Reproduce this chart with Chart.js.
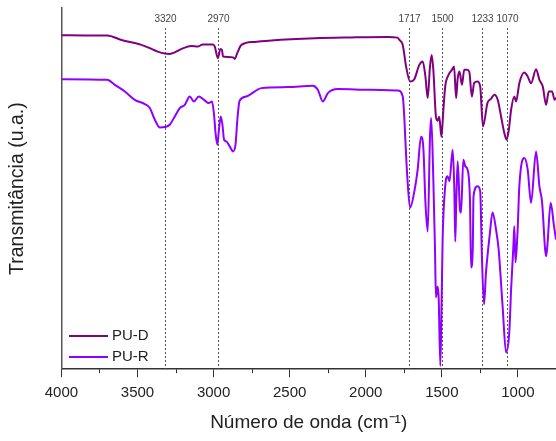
<!DOCTYPE html>
<html>
<head>
<meta charset="utf-8">
<script src="https://cdn.jsdelivr.net/npm/chart.js@4"></script>
<style>
  html, body { margin: 0; padding: 0; background: #fff; }
  #clip { width: 556px; height: 441px; overflow: hidden; }
  #wrap { width: 563px; height: 441px; }
</style>
</head>
<body>
<div id="clip"><div id="wrap"><canvas id="ftir"></canvas></div></div>
<script>
const puDWave = [4000, 3850, 3700, 3605, 3474, 3408, 3367, 3320, 3288, 3255, 3211, 3146, 3104, 3071, 3005, 2992, 2972, 2955, 2945, 2938, 2906, 2873, 2861, 2844, 2817, 2730, 2621, 2336, 2100, 1857, 1792, 1779, 1757, 1735, 1709, 1681, 1648, 1626, 1608, 1593, 1578, 1567, 1556, 1539, 1528, 1517, 1503, 1490, 1478, 1456, 1434, 1420, 1406, 1397, 1384, 1368, 1353, 1336, 1320, 1303, 1288, 1266, 1248, 1230, 1200, 1177, 1155, 1133, 1111, 1090, 1075, 1060, 1045, 1024, 1012, 991, 958, 936, 914, 881, 859, 837, 815, 798, 776, 759, 750];
const puDTrans = [334.7, 334.5, 334.5, 330, 325, 321, 318.3, 316.3, 316, 317.5, 321, 324, 323.3, 325.5, 325.3, 323.3, 311.7, 321, 320, 313.3, 313, 312.5, 311, 317, 325, 328, 329.5, 331.7, 332.5, 333, 332.3, 330, 325, 303.3, 288.3, 290.7, 305, 308.3, 293.3, 271.7, 303.3, 315, 300, 253.3, 249, 253, 233, 260, 283.3, 295, 300, 303.3, 271.7, 290, 298.3, 285, 300, 300, 298.3, 273.3, 286.7, 288.3, 283.3, 243.3, 267, 271, 275, 270, 253.3, 237, 230, 240, 260, 273.3, 268.3, 286.7, 297.3, 293.3, 286.7, 300.7, 290, 283.3, 265, 278.3, 278.3, 270, 272];

const puRWave = [4000, 3700, 3649, 3583, 3518, 3452, 3419, 3386, 3353, 3320, 3288, 3255, 3222, 3189, 3157, 3129, 3098, 3063, 3032, 3010, 2997, 2986, 2975, 2966, 2953, 2942, 2931, 2916, 2894, 2872, 2856, 2843, 2829, 2785, 2686, 2512, 2348, 2315, 2282, 2249, 2183, 1964, 1790, 1757, 1746, 1740, 1728, 1709, 1681, 1659, 1637, 1621, 1608, 1593, 1578, 1570, 1556, 1545, 1539, 1528, 1521, 1510, 1502, 1495, 1478, 1463, 1450, 1429, 1418, 1412, 1405, 1396, 1381, 1374, 1359, 1346, 1331, 1315, 1308, 1297, 1292, 1266, 1248, 1237, 1223, 1210, 1196, 1184, 1167, 1144, 1127, 1101, 1078, 1057, 1045, 1030, 1024, 1016, 1002, 991, 958, 936, 914, 881, 859, 842, 815, 807, 785, 763, 750];
const puRTrans = [290.7, 290, 285, 278.3, 270, 265.7, 261.7, 250, 242.3, 242.7, 245, 253.3, 261.7, 265, 273.3, 268.3, 273.3, 270, 266.7, 268.3, 255, 235, 225, 238.3, 253.3, 245, 230, 228.3, 223.3, 218.3, 225, 251.7, 269, 273.3, 281.7, 282.7, 284, 280, 268.3, 276.7, 280.7, 280, 279.3, 273.3, 250, 230, 195, 161.7, 178, 200, 233, 220, 167, 138, 233, 251.7, 190, 120, 72, 83, 72, 3.3, 63.3, 130, 183.3, 193.3, 188.3, 220, 180, 128, 170, 208.3, 160, 157, 210, 203.3, 200, 167, 102, 120, 173.3, 183.3, 178.3, 113.3, 65, 97, 120, 137, 157, 140, 120, 63.3, 16.7, 37, 80, 123.3, 143.3, 107, 140, 183.3, 211.7, 200, 166.7, 218.3, 183.3, 168.3, 113.3, 123.3, 166.7, 143.3, 130];

const seriesNames = ['PU-D', 'PU-R'];
const seriesColors = ['#800080', '#8f00ff'];
const peakWaves = [3320, 2970, 1717, 1500, 1233, 1070];
const xMajorLabels = [4000, 3500, 3000, 2500, 2000, 1500, 1000];

function toPoints(xs, ys) {
  return xs.map((x, i) => ({ x: x, y: ys[i] }));
}

// dashed peak markers with their labels
const peakPlugin = {
  id: 'peaks',
  beforeDatasetsDraw(chart) {
    const { ctx, chartArea, scales } = chart;
    ctx.save();
    ctx.strokeStyle = '#555';
    ctx.lineWidth = 1;
    ctx.setLineDash([2, 2]);
    ctx.fillStyle = '#444';
    ctx.font = '10px "Liberation Sans", Arial, sans-serif';
    ctx.textAlign = 'center';
    ctx.textBaseline = 'middle';
    for (const w of peakWaves) {
      const px = Math.round(scales.x.getPixelForValue(w)) + 0.5;
      ctx.beginPath();
      ctx.moveTo(px, 28);
      ctx.lineTo(px, chartArea.bottom);
      ctx.stroke();
      ctx.fillText(String(w), px, 19);
    }
    ctx.restore();
  }
};

// short minor ticks + legend in the lower left corner
const extrasPlugin = {
  id: 'extras',
  afterDraw(chart) {
    const { ctx, chartArea, scales } = chart;
    ctx.save();
    ctx.strokeStyle = '#333';
    ctx.lineWidth = 1;
    for (const t of scales.x.ticks) {
      if (t.value % 500 === 0) continue;
      const px = Math.round(scales.x.getPixelForValue(t.value)) + 0.5;
      ctx.beginPath();
      ctx.moveTo(px, chartArea.bottom);
      ctx.lineTo(px, chartArea.bottom + 4);
      ctx.stroke();
    }
    ctx.font = '15px "Liberation Sans", Arial, sans-serif';
    ctx.textBaseline = 'middle';
    ctx.fillStyle = '#222';
    seriesNames.forEach((name, i) => {
      const y = 336 + i * 21;
      ctx.strokeStyle = seriesColors[i];
      ctx.lineWidth = 2;
      ctx.beginPath();
      ctx.moveTo(69, y);
      ctx.lineTo(108, y);
      ctx.stroke();
      ctx.fillText(name, 112, y);
    });
    ctx.restore();
  }
};

new Chart(document.getElementById('ftir'), {
  type: 'line',
  data: {
    datasets: [
      { label: seriesNames[0], data: toPoints(puDWave, puDTrans), borderColor: seriesColors[0] },
      { label: seriesNames[1], data: toPoints(puRWave, puRTrans), borderColor: seriesColors[1] }
    ]
  },
  options: {
    responsive: true,
    maintainAspectRatio: false,
    animation: false,
    parsing: false,
    elements: {
      point: { radius: 0 },
      line: { borderWidth: 2, cubicInterpolationMode: 'monotone', fill: false }
    },
    layout: { padding: { left: 4, top: 8, right: 0, bottom: 0 } },
    plugins: { legend: { display: false }, tooltip: { enabled: false } },
    scales: {
      x: {
        type: 'linear',
        reverse: true,
        min: 750,
        max: 4000,
        border: { display: true, color: '#333', width: 1.5 },
        grid: {
          drawOnChartArea: false,
          tickLength: 8,
          tickColor: ctx => (ctx.tick && ctx.tick.value % 500 === 0) ? '#333' : 'rgba(0,0,0,0)'
        },
        ticks: {
          stepSize: 250,
          autoSkip: false,
          maxRotation: 0,
          padding: 7,
          color: '#222',
          font: { family: '"Liberation Sans", Arial, sans-serif', size: 15 },
          callback: v => xMajorLabels.includes(v) ? String(v) : ''
        },
        title: {
          display: true,
          text: 'Número de onda (cm⁻¹)',
          color: '#222',
          font: { family: '"Liberation Sans", Arial, sans-serif', size: 19 },
          padding: { top: 2, bottom: 7 }
        }
      },
      y: {
        min: 0,
        max: 362,
        border: { display: true, color: '#555', width: 1.5 },
        grid: { drawOnChartArea: false, drawTicks: false },
        ticks: { display: false },
        title: {
          display: true,
          text: 'Transmitância (u.a.)',
          color: '#222',
          font: { family: '"Liberation Sans", Arial, sans-serif', size: 19.5 },
          padding: { top: 2, bottom: 32 }
        }
      }
    }
  },
  plugins: [peakPlugin, extrasPlugin]
});
</script>
</body>
</html>
